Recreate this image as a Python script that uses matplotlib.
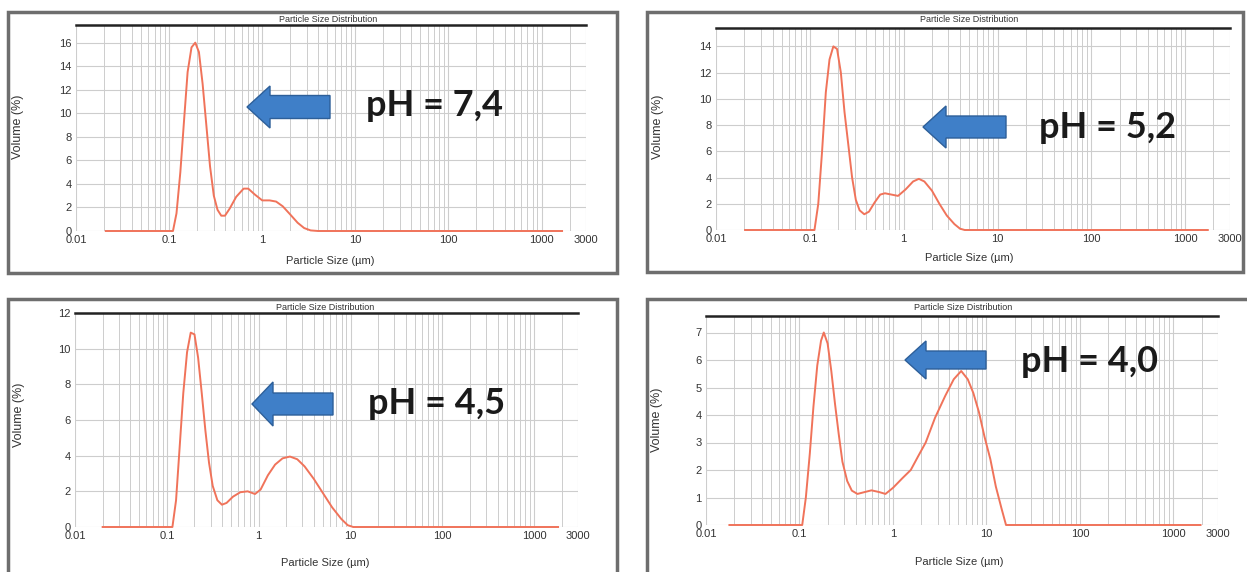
import numpy as np
import matplotlib
matplotlib.use("Agg")
import matplotlib.pyplot as plt
from matplotlib.patches import Polygon, Rectangle
from matplotlib.ticker import FixedLocator, LogLocator, NullFormatter

W, H = 1247, 572

# Particle size (um) and volume (%)
size_74 = [0.0209, 0.110, 0.120, 0.132, 0.145, 0.158, 0.174, 0.191, 0.209, 0.229,
           0.251, 0.275, 0.302, 0.331, 0.363, 0.398, 0.447, 0.525, 0.631, 0.708,
           0.832, 1.0, 1.20, 1.41, 1.66, 2.0, 2.40, 2.82, 3.31, 3.98, 1660]
vol_74 = [0, 0, 1.5, 5, 9.5, 13.5, 15.6, 16.0, 15.2, 12.5,
          9, 5.5, 3, 1.8, 1.3, 1.3, 1.9, 2.9, 3.6, 3.6,
          3.1, 2.6, 2.6, 2.5, 2.1, 1.4, 0.7, 0.25, 0.05, 0, 0]

size_52 = [0.0204, 0.112, 0.123, 0.135, 0.148, 0.162, 0.178, 0.195, 0.214, 0.234,
           0.257, 0.282, 0.309, 0.339, 0.380, 0.427, 0.490, 0.562, 0.631, 0.741,
           0.871, 1.05, 1.26, 1.45, 1.66, 2.0, 2.40, 2.88, 3.47, 3.98, 4.47, 1740]
vol_52 = [0, 0, 2, 6, 10.5, 13, 14, 13.8, 12, 9,
          6.5, 4, 2.3, 1.5, 1.2, 1.4, 2.1, 2.7, 2.8, 2.7,
          2.6, 3.1, 3.7, 3.9, 3.7, 3.0, 2.0, 1.1, 0.45, 0.1, 0, 0]

size_45 = [0.020, 0.115, 0.126, 0.138, 0.151, 0.166, 0.182, 0.200, 0.219, 0.240,
           0.263, 0.288, 0.316, 0.355, 0.398, 0.447, 0.525, 0.631, 0.759, 0.912,
           1.05, 1.26, 1.51, 1.82, 2.19, 2.63, 3.16, 3.98, 5.01, 6.31,
           7.94, 9.33, 10.7, 1820]
vol_45 = [0, 0, 1.5, 4.5, 7.5, 9.8, 10.9, 10.8, 9.5, 7.5,
          5.4, 3.6, 2.3, 1.5, 1.25, 1.35, 1.7, 1.95, 2.0, 1.85,
          2.1, 2.9, 3.5, 3.85, 3.95, 3.8, 3.4, 2.7, 1.9, 1.1,
          0.45, 0.1, 0, 0]

size_40 = [0.0178, 0.107, 0.117, 0.129, 0.141, 0.155, 0.170, 0.182, 0.200, 0.219,
           0.240, 0.263, 0.288, 0.324, 0.363, 0.417, 0.501, 0.589, 0.708, 0.832,
           1.0, 1.26, 1.55, 1.86, 2.24, 2.82, 3.63, 4.47, 5.37, 6.31,
           7.24, 8.32, 9.55, 11.0, 12.6, 14.5, 16.2, 1950]
vol_40 = [0, 0, 1.0, 2.6, 4.3, 5.8, 6.7, 7.0, 6.6, 5.6,
          4.4, 3.3, 2.3, 1.6, 1.25, 1.13, 1.2, 1.26, 1.2, 1.13,
          1.35, 1.7, 2.0, 2.5, 3.0, 3.9, 4.7, 5.3, 5.6, 5.3,
          4.8, 4.1, 3.2, 2.4, 1.4, 0.6, 0, 0]

labels = ["pH = 7,4", "pH = 5,2", "pH = 4,5", "pH = 4,0"]
y_tops = [17.5, 15.4, 12, 7.6]
y_steps = [2, 2, 2, 1]
y_maxtick = [16, 14, 12, 7]
x_ticks = [0.01, 0.1, 1, 10, 100, 1000, 3000]
x_ticklabels = ["0.01", "0.1", "1", "10", "100", "1000", "3000"]

# layout in pixels: axes (left, right, top, bottom), frame, texts, arrow
axes_px = [(76, 586, 25, 231), (716, 1230, 28, 230),
           (75, 578, 313, 527), (706, 1218, 316, 525)]
frames_px = [(8, 12, 617, 273), (647, 12, 1243, 272),
             (8, 299, 617, 590), (647, 299, 1260, 590)]
ylab_px = [(18, 127), (658, 127), (19, 415), (657, 420)]
xlab_px = [(330, 261), (969, 258), (325, 563), (959, 562)]
title_px = [(328, 19), (969, 20), (325, 307), (963, 307)]
# tip x, centre y, head base x, head half height, body half height, tail x
arrows_px = [(247, 107, 270, 21, 11.5, 330), (923, 127, 946, 21, 11, 1006),
             (252, 404, 273, 22, 11, 333), (905, 360, 926, 19, 9, 986)]
ph_px = [(366, 106), (1039, 127), (368, 403), (1021, 362)]

curve_color = "#f0735a"
grid_color = "#cdcdcd"
text_color = "#333333"

fig = plt.figure(figsize=(W / 100, H / 100), dpi=100)
fig.patch.set_facecolor("white")


def fx(x):
    return x / W


def fy(y):
    return 1 - y / H


series = [(size_74, vol_74), (size_52, vol_52), (size_45, vol_45), (size_40, vol_40)]

for i, (sz, vol) in enumerate(series):
    x0, y0, x1, y1 = frames_px[i]
    fig.add_artist(Rectangle((fx(x0), fy(y1)), fx(x1 - x0), (y1 - y0) / H,
                             transform=fig.transFigure, fill=False,
                             edgecolor="#6e6e6e", linewidth=2.5, zorder=0))

    l, r, t, b = axes_px[i]
    ax = fig.add_axes([fx(l), fy(b), fx(r - l), (b - t) / H])
    ax.set_xscale("log")
    ax.set_xlim(0.01, 3000)
    ax.set_ylim(0, y_tops[i])
    ax.set_facecolor("white")

    ax.xaxis.set_major_locator(FixedLocator(x_ticks))
    ax.set_xticklabels(x_ticklabels)
    ax.xaxis.set_minor_locator(LogLocator(base=10, subs=np.arange(2, 10)))
    ax.xaxis.set_minor_formatter(NullFormatter())
    ax.set_yticks(np.arange(0, y_maxtick[i] + 1, y_steps[i]))

    ax.grid(True, which="major", color=grid_color, linewidth=0.8)
    ax.grid(True, which="minor", axis="x", color=grid_color, linewidth=0.7)
    ax.tick_params(which="both", length=0, labelsize=8, colors=text_color, pad=3)
    for lab in ax.get_xticklabels() + ax.get_yticklabels():
        lab.set_fontfamily("Liberation Sans")

    for s in ["left", "right", "bottom"]:
        ax.spines[s].set_visible(False)
    ax.spines["top"].set_color("#222222")
    ax.spines["top"].set_linewidth(1.8)

    ax.plot(sz, vol, color=curve_color, linewidth=1.4, clip_on=False, zorder=3)

    fig.text(fx(ylab_px[i][0]), fy(ylab_px[i][1]), "Volume (%)", rotation=90,
             ha="center", va="center", fontsize=9, color=text_color,
             family="Liberation Sans")
    fig.text(fx(xlab_px[i][0]), fy(xlab_px[i][1]), "Particle Size (\u00b5m)",
             ha="center", va="center", fontsize=8, color=text_color,
             family="Liberation Sans")
    fig.text(fx(title_px[i][0]), fy(title_px[i][1]), "Particle Size Distribution",
             ha="center", va="center", fontsize=6.5, color=text_color,
             family="Liberation Sans")

    # blue block arrow
    tip, cy, hb, hh, bh, tail = arrows_px[i]
    pts = [(tip, cy), (hb, cy - hh), (hb, cy - bh), (tail, cy - bh),
           (tail, cy + bh), (hb, cy + bh), (hb, cy + hh)]
    fig.add_artist(Polygon([(fx(px), fy(py)) for px, py in pts], closed=True,
                           transform=fig.transFigure, facecolor="#3f7fc8",
                           edgecolor="#2d5f99", linewidth=1, zorder=5))

    fig.text(fx(ph_px[i][0]), fy(ph_px[i][1]), labels[i], ha="left", va="center",
             fontsize=26, fontweight="bold", color="#1a1a1a", family="Lato",
             zorder=6)

fig.savefig("out.png", dpi=100, facecolor="white")
